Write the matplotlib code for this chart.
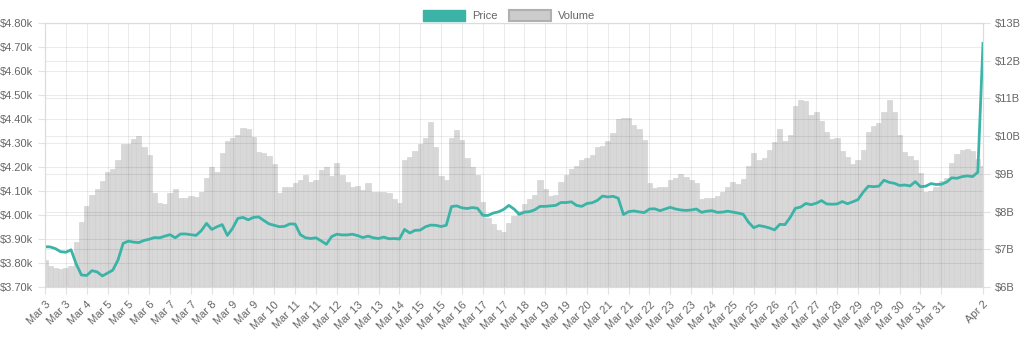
import datetime as dt
import matplotlib
matplotlib.use("Agg")
import matplotlib.pyplot as plt
from matplotlib.patches import Patch
from matplotlib.ticker import FuncFormatter

# 4-hourly samples, Mar 3 00:00 -> Apr 2 00:00
start = dt.datetime(2024, 3, 3)
step_hours = 4

price = [
    3868, 3867, 3860, 3847, 3845, 3855, 3795, 3750, 3748, 3768,
    3763, 3746, 3758, 3770, 3812, 3882, 3891, 3887, 3885, 3894,
    3899, 3906, 3905, 3912, 3918, 3905, 3921, 3921, 3918, 3915,
    3935, 3965, 3940, 3951, 3960, 3915, 3945, 3986, 3990, 3980,
    3990, 3992, 3977, 3963, 3957, 3951, 3953, 3963, 3962, 3918,
    3905, 3902, 3905, 3892, 3878, 3910, 3920, 3917, 3917, 3920,
    3914, 3906, 3912, 3905, 3902, 3908, 3901, 3902, 3900, 3940,
    3925, 3936, 3937, 3951, 3958, 3957, 3952, 3957, 4035, 4038,
    4030, 4027, 4031, 4028, 3999, 3998, 4008, 4013, 4023, 4040,
    4025, 4003, 4012, 4014, 4022, 4036, 4036, 4038, 4040, 4052,
    4052, 4055, 4040, 4036, 4048, 4051, 4061, 4079, 4075, 4078,
    4070, 4002, 4014, 4017, 4013, 4010, 4025, 4026, 4018, 4025,
    4032, 4025, 4021, 4019, 4021, 4025, 4011, 4016, 4018, 4011,
    4012, 4016, 4012, 4008, 4003, 3970, 3947, 3956, 3952, 3946,
    3938, 3961, 3960, 3990, 4028, 4033, 4048, 4043, 4049, 4060,
    4046, 4045, 4046, 4056, 4047, 4055, 4064, 4095, 4120, 4118,
    4120, 4145, 4136, 4132, 4123, 4125, 4121, 4139, 4118, 4120,
    4131, 4127, 4128, 4137, 4155, 4153, 4160, 4163, 4160, 4178,
    4715,
]

# volume in billions of USD
volume = [
    6.71, 6.55, 6.50, 6.48, 6.50, 6.56, 7.20, 7.73, 8.15, 8.45,
    8.59, 8.80, 9.05, 9.12, 9.37, 9.80, 9.78, 9.93, 10.00, 9.70,
    9.50, 8.50, 8.23, 8.20, 8.50, 8.60, 8.35, 8.36, 8.42, 8.39,
    8.52, 8.88, 9.17, 9.05, 9.55, 9.88, 9.95, 10.03, 10.22, 10.20,
    9.97, 9.59, 9.54, 9.48, 9.25, 8.50, 8.65, 8.66, 8.75, 8.85,
    8.98, 8.78, 8.83, 9.10, 9.19, 8.95, 9.30, 8.98, 8.78, 8.66,
    8.68, 8.58, 8.77, 8.53, 8.53, 8.53, 8.49, 8.33, 8.22, 9.38,
    9.45, 9.60, 9.78, 9.94, 10.38, 9.70, 8.95, 8.85, 9.95, 10.17,
    9.90, 9.43, 9.17, 8.97, 8.25, 7.82, 7.67, 7.50, 7.46, 7.70,
    7.87, 8.02, 8.20, 8.34, 8.44, 8.84, 8.60, 8.40, 8.43, 8.78,
    8.96, 9.12, 9.22, 9.37, 9.42, 9.50, 9.72, 9.75, 9.88, 10.08,
    10.45, 10.47, 10.49, 10.29, 10.19, 9.90, 8.75, 8.62, 8.66, 8.66,
    8.84, 8.90, 9.00, 8.92, 8.84, 8.75, 8.33, 8.35, 8.36, 8.42,
    8.52, 8.66, 8.78, 8.72, 8.87, 9.20, 9.54, 9.38, 9.43, 9.62,
    9.85, 10.20, 9.87, 10.03, 10.80, 10.95, 10.92, 10.57, 10.63, 10.40,
    10.10, 9.92, 9.95, 9.60, 9.45, 9.26, 9.38, 9.62, 10.10, 10.28,
    10.36, 10.65, 10.95, 10.65, 10.03, 9.58, 9.48, 9.37, 9.03, 8.53,
    8.54, 8.64, 8.80, 8.90, 9.30, 9.53, 9.62, 9.66, 9.61, 9.40,
    9.20,
]

hours = [i * step_hours for i in range(len(price))]

# x labels every 16 hours; the one before the final date is skipped
tick_hours = list(range(0, 704, 16)) + [720]
tick_labels = [(start + dt.timedelta(hours=h)).strftime("%b %-d") for h in tick_hours]

teal = "#3bb4a7"
text_col = "#666666"
plt.rcParams["font.family"] = ["Liberation Sans", "DejaVu Sans"]

fig = plt.figure(figsize=(10.24, 3.39), dpi=100)
ax = fig.add_axes([45 / 1024, 1 - 287 / 339, 938 / 1024, 264 / 339])
ax2 = ax.twinx()
ax.set_zorder(ax2.get_zorder() + 1)
ax.patch.set_visible(False)

ax2.bar(hours, volume, width=step_hours, color="#d8d8d8",
        edgecolor="#cfcfcf", linewidth=0.4, align="center")
ax2.set_ylim(6, 13)
ax2.set_yticks(range(6, 14))
ax2.yaxis.set_major_formatter(FuncFormatter(lambda v, _: f"${v:.0f}B"))
ax2.grid(axis="y", color="black", alpha=0.08, linewidth=0.8)

ax.plot(hours, price, color=teal, linewidth=2.0, solid_joinstyle="round")
ax.set_ylim(3700, 4800)
ax.set_yticks(range(3700, 4801, 100))
ax.yaxis.set_major_formatter(FuncFormatter(lambda v, _: f"${v / 1000:.2f}k"))
ax.set_xlim(0, 720)
ax.set_xticks(tick_hours)
ax.set_xticklabels(tick_labels, rotation=45, ha="right", rotation_mode="anchor")
ax.grid(True, color="black", alpha=0.08, linewidth=0.8)

for a in (ax, ax2):
    a.tick_params(colors=text_col, labelsize=8, length=5, width=0.8)
    a.tick_params(axis="both", color="#e2e2e2")
    for s in a.spines.values():
        s.set_color("#dcdcdc")
        s.set_linewidth(0.8)
ax.tick_params(axis="x", pad=4)

handles = [Patch(facecolor=teal, edgecolor=teal),
           Patch(facecolor="#cccccc", edgecolor="#b0b0b0", linewidth=1.5)]
fig.legend(handles, ["Price", "Volume"], loc="upper center", ncol=2,
           bbox_to_anchor=(0.497, 1.0), frameon=False, fontsize=8,
           handlelength=3.8, handleheight=1.1, columnspacing=1.0,
           handletextpad=0.6, labelcolor=text_col)

fig.savefig("out.png", dpi=100)
